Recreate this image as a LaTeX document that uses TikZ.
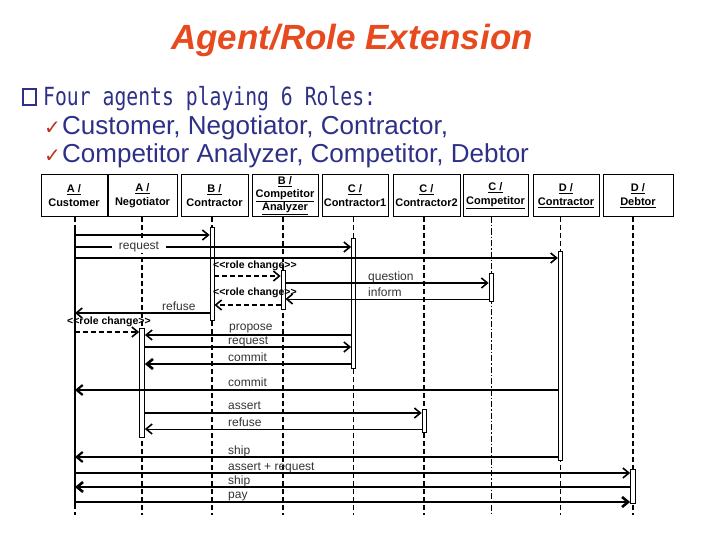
\documentclass[tikz,border=0pt]{standalone}
\usepackage{fontspec}
\setmainfont{Liberation Sans}
\newfontfamily\monocond[FakeStretch=0.79]{DejaVu Sans Mono}
\newfontfamily\symfont{DejaVu Sans}
\usetikzlibrary{arrows.meta}
\definecolor{titlered}{HTML}{E84A1F}
\definecolor{navy}{HTML}{2E3087}
\definecolor{checkred}{HTML}{B8341C}
\newcommand{\rolechg}{{<}{<}role change{>}{>}}
\begin{document}
\begin{tikzpicture}[x=1pt,y=-1pt,
  hdr/.style={draw, line width=1pt, minimum height=42pt, inner sep=0pt, align=center,
    font=\fontsize{11}{14}\selectfont\bfseries, fill=white},
  hdrthree/.style={hdr, font=\fontsize{11}{13}\selectfont\bfseries},
  life/.style={line width=1.8pt, dash pattern=on 5pt off 3pt},
  lifethin/.style={line width=0.9pt, dash pattern=on 6pt off 2pt on 1.5pt off 2pt},
  act/.style={draw, fill=white, line width=0.8pt, inner sep=0pt, minimum width=4pt},
  tip/.style={-{Straight Barb[length=6pt,width=10pt]}},
  msg/.style={tip, line width=1.6pt},
  thickmsg/.style={tip, line width=2.6pt},
  thinmsg/.style={line width=0.8pt, -{Straight Barb[length=6pt,width=10pt,line width=1.6pt]}},
  rc/.style={msg, dash pattern=on 5pt off 3pt},
  lab/.style={font=\fontsize{12}{12}\selectfont, text=black!80, inner sep=0pt, anchor=base west},
  rclab/.style={font=\fontsize{10.5}{10.5}\selectfont\bfseries, inner sep=0pt, anchor=base west}
]
\useasboundingbox (0,0) rectangle (720,540);

% ---- title and text ----
\node[anchor=base, inner sep=0pt, text=titlered, font=\fontsize{35}{40}\selectfont\bfseries\itshape] (title) at (352,50) {Agent/Role Extension};
\draw[navy, line width=1.5pt] (23,89) rectangle (36,105);
\node[anchor=base west, inner sep=0pt, text=navy, font=\monocond\fontsize{25}{28}\selectfont] (four) at (43,106) {Four agents playing 6 Roles:};
\node[anchor=base west, inner sep=0pt, text=checkred, font=\symfont\fontsize{20}{22}\selectfont] (ck1) at (44,135) {✓};
\node[anchor=base west, inner sep=0pt, text=navy, font=\fontsize{26}{28}\selectfont] (t1) at (62,135) {Customer, Negotiator, Contractor,};
\node[anchor=base west, inner sep=0pt, text=checkred, font=\symfont\fontsize{20}{22}\selectfont] (ck2) at (44,163) {✓};
\node[anchor=base west, inner sep=0pt, text=navy, font=\fontsize{26}{28}\selectfont] (t2) at (62,163) {Competitor Analyzer, Competitor, Debtor};

% ---- header boxes ----
\node[hdr, minimum width=66pt] (h1) at (74,196) {\underline{A /}\\Customer};
\node[hdr, minimum width=69pt] (h2) at (142.5,196) {\underline{A /}\\Negotiator};
\node[hdr, minimum width=67pt] (h3) at (214.5,196) {\underline{B /}\\Contractor};
\node[hdrthree, minimum width=66pt] (h4) at (285,196) {\underline{B /}\\\underline{Competitor}\\\underline{Analyzer}};
\node[hdr, minimum width=66pt] (h5) at (355,196) {\underline{C /}\\Contractor1};
\node[hdr, minimum width=67pt] (h6) at (426.5,196) {\underline{C /}\\Contractor2};
\node[hdr, minimum width=65pt] (h7) at (495.5,196) {\underline{C /}\\\underline{Competitor}};
\node[hdr, minimum width=66pt] (h8) at (566,196) {\underline{D /}\\\underline{Contractor}};
\node[hdr, minimum width=70pt] (h9) at (638,196) {\underline{D /}\\\underline{Debtor}};

% ---- lifelines ----
\coordinate (L1) at (75,217);  \coordinate (E1) at (75,515);
\coordinate (L2) at (142,217); \coordinate (E2) at (142,515);
\coordinate (L3) at (212,217); \coordinate (E3) at (212,515);
\coordinate (L4) at (283,217); \coordinate (E4) at (283,515);
\coordinate (L5) at (353.5,217); \coordinate (E5) at (353.5,515);
\coordinate (L6) at (424,217); \coordinate (E6) at (424,515);
\coordinate (L7) at (491,217); \coordinate (E7) at (491,515);
\coordinate (L8) at (560.5,217); \coordinate (E8) at (560.5,515);
\coordinate (L9) at (633,217); \coordinate (E9) at (633,515);
\coordinate (C1a) at (75,226); \coordinate (C1b) at (75,504);

\draw[life] (L1) -- (C1a);
\draw[line width=1.3pt] (C1a) -- (C1b);
\draw[life] (C1b) -- (E1);
\draw[life] (L2) -- (E2);
\draw[life] (L3) -- (E3);
\draw[life] (L4) -- (E4);
\draw[life] (L5) -- (E5);
\draw[life] (L6) -- (E6);
\draw[lifethin] (L7) -- (E7);
\draw[life] (L8) -- (E8);
\draw[life] (L9) -- (E9);

% ---- activation bars ----
\node[act, minimum height=93pt] (a3) at (212,273.5) {};
\node[act, minimum height=130pt] (a5) at (353.5,303) {};
\node[act, minimum height=209pt, minimum width=4.5pt] (a8) at (560.5,355.5) {};
\node[act, minimum height=39pt] (a4) at (283,289.5) {};
\node[act, minimum height=28pt] (a7) at (491,287) {};
\node[act, minimum height=109pt, minimum width=5pt] (a2) at (142,382.5) {};
\node[act, minimum height=23pt] (a6) at (424,420.5) {};
\node[act, minimum height=34pt, minimum width=5pt] (a9) at (633,486) {};

% ---- messages ----
\draw[msg] (C1a |- 0,235) -- (a3.west |- 0,235);
\draw[msg] (C1a |- 0,247) -- (a5.west |- 0,247);
\node[fill=white, inner xsep=7pt, inner ysep=1pt, font=\fontsize{12}{12}\selectfont, text=black!80] (lreq) at (139,247) {request};
\draw[msg] (C1a |- 0,258) -- (a8.west |- 0,258);

\draw[rc] (a3.east |- 0,276) -- (a4.west |- 0,276);
\node[rclab] (lrc1) at (213,268) {\rolechg};
\draw[msg] (a4.east |- 0,283) -- (a7.west |- 0,283);
\node[lab] (lq) at (368,280) {question};
\draw[thinmsg] (a7.west |- 0,299) -- (a4.east |- 0,299);
\node[lab] (li) at (368,296) {inform};
\draw[rc] (a4.west |- 0,305) -- (a3.east |- 0,305);
\node[rclab] (lrc2) at (213,295) {\rolechg};
\draw[msg] (a3.west |- 0,313) -- (C1a |- 0,313);
\node[lab] (lref1) at (162,310) {refuse};
\draw[rc] (C1a |- 0,332) -- (a2.west |- 0,332);
\node[rclab] (lrc3) at (67,324) {\rolechg};

\draw[msg] (a5.west |- 0,335) -- (a2.east |- 0,335);
\node[lab] (lp) at (229,330) {propose};
\draw[msg] (a2.east |- 0,347) -- (a5.west |- 0,347);
\node[lab] (lr2) at (228,344.5) {request};
\draw[thickmsg] (a5.west |- 0,364) -- (a2.east |- 0,364);
\node[lab] (lc1) at (228,361.5) {commit};
\draw[msg, line width=2.2pt] (a8.west |- 0,390) -- (C1a |- 0,390);
\node[lab] (lc2) at (228,386) {commit};
\draw[msg] (a2.east |- 0,413) -- (a6.west |- 0,413);
\node[lab] (la) at (228,409) {assert};
\draw[thinmsg] (a6.west |- 0,429) -- (a2.east |- 0,429);
\node[lab] (lref2) at (228,426) {refuse};

\draw[msg, line width=2.2pt] (a8.west |- 0,457) -- (C1a |- 0,457);
\node[lab] (ls1) at (228,454) {ship};
\draw[msg] (C1a |- 0,473) -- (a9.west |- 0,473);
\node[lab] (lar) at (228,470) {assert + request};
\draw[thickmsg] (a9.west |- 0,487) -- (C1a |- 0,487);
\node[lab] (ls2) at (228,484) {ship};
\draw[thickmsg] (C1a |- 0,502) -- (a9.west |- 0,502);
\node[lab] (lpay) at (228,498) {pay};
\end{tikzpicture}
\end{document}
